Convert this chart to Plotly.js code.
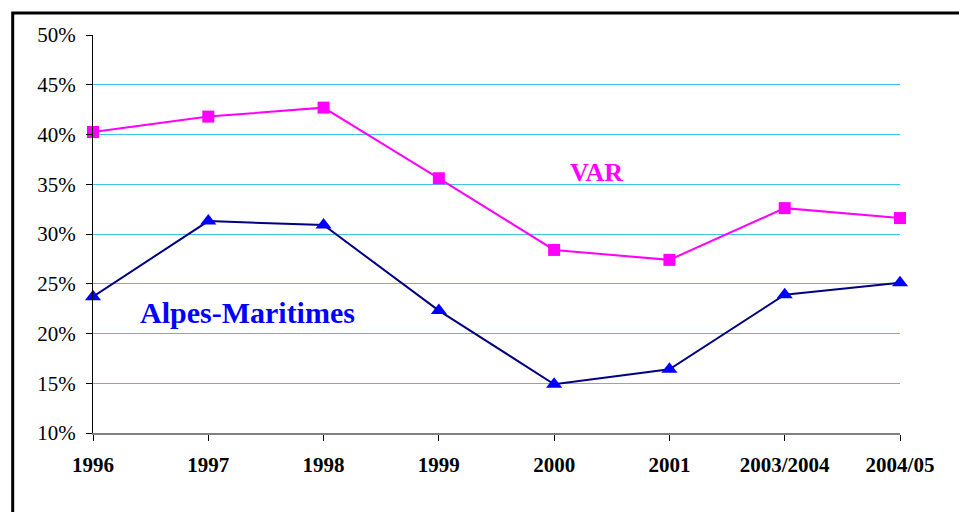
<!DOCTYPE html>
<html>
<head>
<meta charset="utf-8">
<script src="https://cdn.plot.ly/plotly-3.0.1.min.js"></script>
<style>
  html, body { margin: 0; padding: 0; background: #fff; }
  #chart { width: 959px; height: 512px; }
</style>
</head>
<body>
<div id="chart"></div>
<script>
const years = ["1996", "1997", "1998", "1999", "2000", "2001", "2003/2004", "2004/05"];
const varShare = [40.25, 41.8, 42.7, 35.6, 28.4, 27.4, 32.6, 31.6];
const alpesShare = [23.7, 31.3, 30.9, 22.3, 14.9, 16.4, 23.9, 25.1];
const yTicks = [10, 15, 20, 25, 30, 35, 40, 45, 50];
const yTickText = ["10%", "15%", "20%", "25%", "30%", "35%", "40%", "45%", "50%"];

const serif = "Liberation Serif";

const traces = [
  {
    x: years,
    y: varShare,
    name: "VAR",
    type: "scatter",
    mode: "lines+markers",
    line: { color: "#ff00ff", width: 2 },
    marker: { symbol: "square", size: 12, color: "#ff00ff" },
    cliponaxis: false,
  },
  {
    x: years,
    y: alpesShare,
    name: "Alpes-Maritimes",
    type: "scatter",
    mode: "lines+markers",
    line: { color: "#000080", width: 2 },
    marker: { symbol: "triangle-up", size: 14, color: "#0000ff" },
    cliponaxis: false,
  },
];

const layout = {
  width: 959,
  height: 512,
  margin: { l: 93, r: 59, t: 35, b: 79 },
  paper_bgcolor: "white",
  plot_bgcolor: "white",
  showlegend: false,
  font: { family: serif, color: "#000" },
  xaxis: {
    type: "category",
    range: [0, 7],
    showgrid: false,
    zeroline: false,
    showline: true,
    linecolor: "#808080",
    linewidth: 2,
    ticks: "outside",
    ticklen: 6,
    tickcolor: "#000",
    tickfont: { family: serif, size: 21, color: "#000", weight: "bold" },
    ticklabelstandoff: 6,
  },
  yaxis: {
    range: [10, 50],
    tickmode: "array",
    tickvals: yTicks,
    ticktext: yTickText,
    showgrid: true,
    gridcolor: "#40c4e8",
    gridwidth: 1,
    zeroline: false,
    showline: true,
    linecolor: "#000",
    linewidth: 1,
    ticks: "outside",
    ticklen: 6,
    tickcolor: "#000",
    tickfont: { family: serif, size: 21, color: "#000" },
    ticklabelstandoff: 6,
  },
  annotations: [
    {
      x: 4.37, y: 36.2, xref: "x", yref: "y",
      text: "VAR", showarrow: false,
      font: { family: serif, size: 26, color: "#ff00ff", weight: "bold" },
    },
    {
      x: 1.34, y: 22.1, xref: "x", yref: "y",
      text: "Alpes-Maritimes", showarrow: false,
      font: { family: serif, size: 30, color: "#0000ff", weight: "bold" },
    },
  ],
  shapes: [
    {
      type: "rect", xref: "paper", yref: "paper",
      x0: -0.0995, x1: 1.2, y0: -0.3, y1: 1.0553,
      line: { color: "#000", width: 3 },
      layer: "below",
    },
  ],
};

Plotly.newPlot("chart", traces, layout, { displayModeBar: false, staticPlot: true });
</script>
</body>
</html>
